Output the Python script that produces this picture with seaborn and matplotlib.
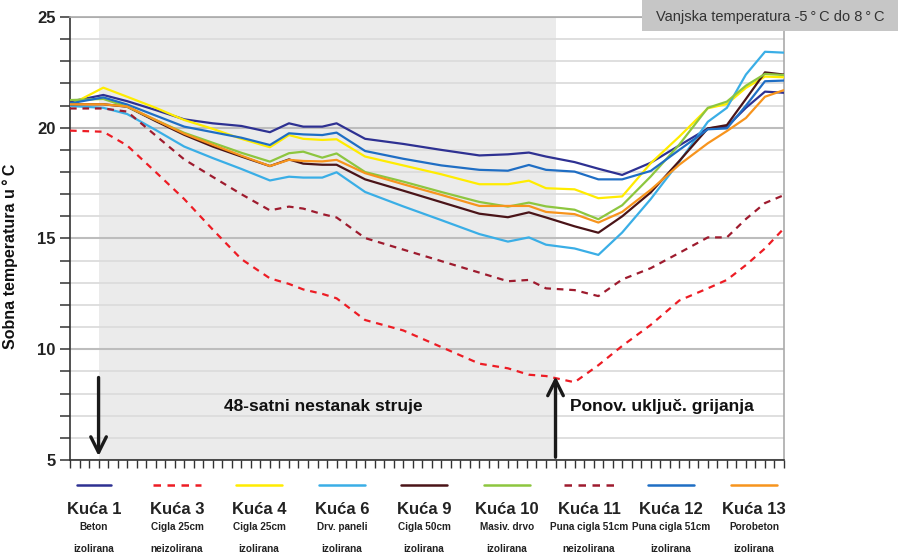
import pandas as pd
import matplotlib
matplotlib.use('Agg')
import matplotlib.pyplot as plt
from matplotlib.lines import Line2D
from matplotlib.patches import Rectangle
import seaborn as sns

# sati od početka mjerenja
hours = [0, 3.5, 6, 9, 12, 15, 18, 21, 23, 24.5, 26.5, 28, 31, 35, 39, 43, 46, 48.2,
         50, 53, 55.5, 58, 61, 64, 67, 69, 71, 73, 75]

kuca_1 = [21.18, 21.48, 21.2, 20.8, 20.38, 20.2, 20.08, 19.8, 20.2, 20.05, 20.05, 20.2, 19.5,
          19.27, 19.0, 18.75, 18.8, 18.88, 18.7, 18.45, 18.15, 17.87, 18.42, 19.2, 19.97, 20.05,
          20.9, 21.63, 21.58]
kuca_3 = [19.87, 19.82, 19.2, 18.0, 16.78, 15.4, 14.07, 13.2, 12.95, 12.7, 12.5, 12.3, 11.32,
          10.85, 10.1, 9.35, 9.14, 8.85, 8.79, 8.51, 9.28, 10.15, 11.1, 12.2, 12.75, 13.13,
          13.8, 14.55, 15.46]
kuca_4 = [21.03, 21.81, 21.4, 20.9, 20.35, 19.95, 19.5, 19.12, 19.67, 19.5, 19.45, 19.48, 18.7,
          18.3, 17.9, 17.45, 17.45, 17.61, 17.27, 17.22, 16.82, 16.9, 18.4, 19.6, 20.88, 21.07,
          21.8, 22.31, 22.28]
kuca_6 = [20.98, 20.9, 20.62, 19.9, 19.15, 18.63, 18.14, 17.62, 17.79, 17.75, 17.75, 17.99, 17.1,
          16.45, 15.83, 15.2, 14.86, 15.05, 14.72, 14.55, 14.26, 15.27, 16.78, 18.46, 20.27,
          20.9, 22.4, 23.43, 23.39]
kuca_9 = [21.06, 21.06, 20.95, 20.3, 19.68, 19.15, 18.7, 18.27, 18.57, 18.38, 18.33, 18.33, 17.67,
          17.16, 16.64, 16.12, 15.96, 16.18, 15.95, 15.55, 15.26, 16.0, 17.08, 18.5, 19.97, 20.12,
          21.3, 22.5, 22.4]
kuca_10 = [21.25, 21.3, 20.95, 20.35, 19.77, 19.32, 18.87, 18.47, 18.85, 18.92, 18.65, 18.84, 18.0,
           17.57, 17.1, 16.65, 16.44, 16.62, 16.45, 16.3, 15.87, 16.5, 17.8, 19.24, 20.9, 21.18,
           21.9, 22.43, 22.38]
kuca_11 = [20.87, 20.87, 20.73, 19.65, 18.57, 17.78, 17.0, 16.27, 16.44, 16.35, 16.1, 15.95, 15.02,
           14.5, 13.98, 13.46, 13.07, 13.13, 12.75, 12.67, 12.4, 13.15, 13.66, 14.35, 15.05,
           15.05, 15.88, 16.6, 16.96]
kuca_12 = [21.1, 21.37, 21.05, 20.55, 20.05, 19.8, 19.55, 19.22, 19.75, 19.7, 19.67, 19.78, 18.95,
           18.6, 18.3, 18.1, 18.06, 18.32, 18.1, 18.02, 17.67, 17.67, 18.05, 19.0, 19.93, 19.97,
           21.0, 22.1, 22.13]
kuca_13 = [21.06, 21.06, 20.96, 20.35, 19.73, 19.23, 18.74, 18.27, 18.55, 18.5, 18.48, 18.55, 17.95,
           17.45, 16.97, 16.47, 16.47, 16.47, 16.2, 16.1, 15.72, 16.2, 17.2, 18.33, 19.3, 19.85,
           20.44, 21.4, 21.7]

labels = ['Kuća 1', 'Kuća 3', 'Kuća 4', 'Kuća 6', 'Kuća 9', 'Kuća 10', 'Kuća 11', 'Kuća 12', 'Kuća 13']
materials = ['Beton', 'Cigla 25cm', 'Cigla 25cm', 'Drv. paneli', 'Cigla 50cm', 'Masiv. drvo',
             'Puna cigla 51cm', 'Puna cigla 51cm', 'Porobeton']
insulation = ['izolirana', 'neizolirana', 'izolirana', 'izolirana', 'izolirana', 'izolirana',
              'neizolirana', 'izolirana', 'izolirana']
colors = ['#2E3192', '#ED1C24', '#FFEC00', '#3AAEE6', '#4A1418', '#8DC63F', '#9E1B2E',
          '#1F6EC4', '#F7941D']
dashed = [False, True, False, False, False, False, True, False, False]

series = [kuca_1, kuca_3, kuca_4, kuca_6, kuca_9, kuca_10, kuca_11, kuca_12, kuca_13]
df = pd.DataFrame({
    'Sat': hours * len(labels),
    'Temperatura': [v for s in series for v in s],
    'Kuća': [lab for lab in labels for _ in hours],
})

sns.set_style('white')
plt.rcParams['font.family'] = ['Liberation Sans', 'DejaVu Sans']

fig = plt.figure(figsize=(8.98, 5.53), dpi=100)
ax = fig.add_axes([70 / 898, 1 - 460 / 553, 714 / 898, 443 / 553])

# osjenčano razdoblje nestanka struje
ax.axvspan(3, 51, color='#EBEBEB', zorder=0, lw=0)
ax.set_axisbelow(True)

for lab, col, dsh in zip(labels, colors, dashed):
    sub = df[df['Kuća'] == lab]
    ls = (0, (3, 2.6)) if dsh else '-'
    sns.lineplot(data=sub, x='Sat', y='Temperatura', ax=ax, color=col, lw=1.6,
                 linestyle=ls, legend=False, zorder=3)

ax.set_xlim(0, 75)
ax.set_ylim(5, 25)
ax.set_xticks(range(0, 76))
ax.set_xticklabels([])
ax.set_yticks(range(5, 26, 5))
ax.set_yticks(range(5, 26), minor=True)
ax.set_yticklabels([str(v) for v in range(5, 26, 5)], fontsize=12, fontweight='bold', color='#222222')
ax.tick_params(axis='y', which='both', direction='out', length=7, width=1.1, color='#333333', left=True)
ax.tick_params(axis='x', which='major', direction='out', length=6, width=1.0, color='#333333', bottom=True)
ax.grid(axis='y', which='major', color='#BDBDBD', lw=1.5)
ax.grid(axis='y', which='minor', color='#DCDCDC', lw=1.3)
ax.grid(axis='x', visible=False)
ax.set_xlabel('')
ax.set_ylabel('Sobna temperatura u\u2009°\u2009C', fontsize=11.5, fontweight='bold', color='#111111')
ax.yaxis.set_label_coords(-0.073, 0.46)

for side in ['left', 'bottom']:
    ax.spines[side].set_color('#333333')
    ax.spines[side].set_linewidth(1.2)
for side in ['top', 'right']:
    ax.spines[side].set_color('#AAAAAA')
    ax.spines[side].set_linewidth(1.2)

# strelice i natpisi
ax.annotate('', xy=(3, 5.05), xytext=(3, 8.85),
            arrowprops=dict(arrowstyle='->', lw=2.4, color='#1A1A1A', mutation_scale=28))
ax.annotate('', xy=(51, 8.9), xytext=(51, 5.0),
            arrowprops=dict(arrowstyle='->', lw=2.4, color='#1A1A1A', mutation_scale=28))
ax.text(26.6, 7.4, '48-satni nestanak struje', ha='center', va='center',
        fontsize=12.5, fontweight='bold', color='#111111')
ax.text(52.5, 7.4, 'Ponov. uključ. grijanja', ha='left', va='center',
        fontsize=12.5, fontweight='bold', color='#111111')

# legenda ispod grafikona
centers = [94, 177, 259, 342, 424, 507, 589, 671, 754]
half_len = [17, 24, 23, 23, 23, 23, 25, 23, 23]
for cx, hl, lab, mat, ins, col, dsh in zip(centers, half_len, labels, materials, insulation, colors, dashed):
    ls = (0, (3, 2.6)) if dsh else '-'
    fig.add_artist(Line2D([(cx - hl) / 898, (cx + hl) / 898], [1 - 485 / 553] * 2,
                          transform=fig.transFigure, color=col, lw=1.8, linestyle=ls))
    fig.text(cx / 898, 1 - 509 / 553, lab, ha='center', va='center',
             fontsize=12, fontweight='bold', color='#222222')
    fig.text(cx / 898, 1 - 527 / 553, mat, ha='center', va='center',
             fontsize=7.2, fontweight='bold', color='#222222')
    fig.text(cx / 898, 1 - 549 / 553, ins, ha='center', va='center',
             fontsize=7.2, fontweight='bold', color='#222222')

# okvir s vanjskom temperaturom
fig.add_artist(Rectangle((642 / 898, 1 - 31 / 553), 256 / 898, 31 / 553,
                         transform=fig.transFigure, facecolor='#C6C6C6', edgecolor='none', zorder=5))
fig.text(770 / 898, 1 - 17 / 553, 'Vanjska temperatura -5\u2009°\u2009C do 8\u2009°\u2009C',
         ha='center', va='center', fontsize=10.5, color='#333333', zorder=6)

fig.savefig('out.png', dpi=100)
